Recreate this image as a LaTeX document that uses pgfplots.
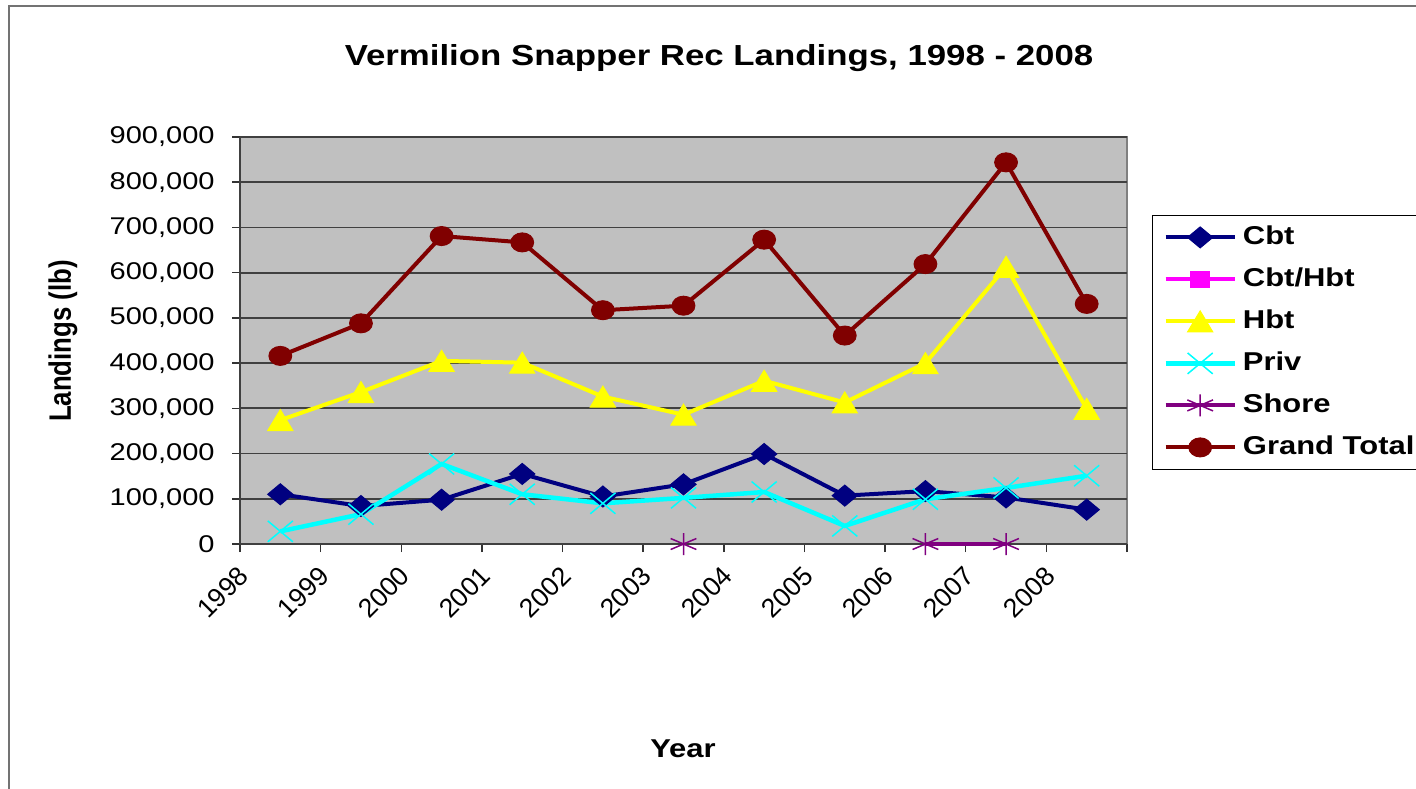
\documentclass[border=0pt]{standalone}
\usepackage{fontspec}
\setmainfont{Liberation Sans}[FakeStretch=1.2]
\newfontfamily\plainfont{Liberation Sans}
\usepackage{graphicx}
\usepackage{pgfplots}
\pgfplotsset{compat=1.18}
\usepackage{pgfplotstable}
\definecolor{cbt}{HTML}{000080}
\definecolor{cbthbt}{HTML}{FF00FF}
\definecolor{hbt}{HTML}{FFFF00}
\definecolor{priv}{HTML}{00FFFF}
\definecolor{shore}{HTML}{800080}
\definecolor{total}{HTML}{800000}
\definecolor{plotbg}{HTML}{C0C0C0}

\pgfplotstableread{
x cbt hbt priv shore total
0.5 110000 274000 28000 nan 416000
1.5 84000 336000 66000 nan 488000
2.5 98000 405000 177000 nan 681000
3.5 155000 401000 110000 nan 667000
4.5 105000 326000 90000 nan 517000
5.5 132000 286000 102000 0 527000
6.5 199000 361000 115000 nan 673000
7.5 107000 313000 40000 nan 461000
8.5 117000 400000 99000 0 619000
9.5 103000 613000 124000 0 844000
10.5 76000 299000 151000 nan 531000
}\data

\begin{document}
\begin{tikzpicture}
\useasboundingbox (0,0) rectangle (708pt,-394pt);
\fill[white] (0,0) rectangle (708pt,-394pt);
\draw[black!55, line width=1pt] (4.5pt,-400pt) -- (4.5pt,-3pt) -- (715pt,-3pt);
\begin{axis}[
  at={(120pt,-272pt)}, anchor=south west,
  scale only axis, width=443.5pt, height=203.5pt,
  xmin=0, xmax=11, ymin=0, ymax=900000,
  clip=false,
  unbounded coords=jump,
  axis background/.style={fill=plotbg, draw=black!50, line width=1pt},
  axis x line*=bottom, axis y line*=left,
  axis line style={-, black!75, line width=1pt},
  tick align=outside, major tick length=4pt,
  tick style={black!80, line width=0.75pt},
  xtick={0,1,...,11},
  xticklabels={1998,1999,2000,2001,2002,2003,2004,2005,2006,2007,2008,{}},
  xticklabel style={xshift=-1.5pt, yshift=-6pt, rotate=45, anchor=north east, inner sep=0pt,
    font=\plainfont\fontsize{13.3}{15}\selectfont},
  ytick={0,100000,...,900000},
  scaled y ticks=false,
  /pgf/number format/fixed, /pgf/number format/precision=0,
  /pgf/number format/1000 sep={,}, /pgf/number format/assume math mode=true,
  yticklabel style={anchor=east, inner sep=0pt, xshift=-8.5pt, font=\fontsize{12.1}{14}\selectfont},
  ymajorgrids, grid style={black!75, line width=0.9pt},
  legend image code/.code={\draw[mark repeat=2,mark phase=2,#1] plot coordinates {(0pt,0pt) (17.25pt,0pt) (34.5pt,0pt)};},
  legend cell align=left,
  legend style={at={(1.0282,0.8084)}, anchor=north west, draw=black, fill=white,
    inner xsep=5.5pt, inner ysep=5pt, row sep=9pt,
    font=\bfseries\fontsize{12.9}{15}\selectfont,
    nodes={inner sep=0pt, text height=9.3pt, text depth=2.7pt},
    /tikz/every odd column/.append style={column sep=3pt}},
]
\addplot[cbt, line width=2pt, mark=diamond*, mark size=5.25pt, mark options={solid, fill=cbt, line width=0.5pt, xscale=1.6}] table[x=x,y=cbt]{\data};
\addlegendentry{Cbt}
\addlegendimage{cbthbt, line width=2pt, mark=square*, mark size=4pt, mark options={solid, fill=cbthbt, line width=0.5pt, xscale=1.2}}
\addlegendentry{Cbt/Hbt}
\addplot[hbt, line width=2pt, mark=triangle*, mark size=7pt, mark options={solid, fill=hbt, line width=0.5pt, xscale=1.04, yshift=-1.75pt}] table[x=x,y=hbt]{\data};
\addlegendentry{Hbt}
\addplot[priv, line width=2.25pt, mark=x, mark size=7.4pt, mark options={solid, line width=0.75pt, xscale=1.2}] table[x=x,y=priv]{\data};
\addlegendentry{Priv}
\addplot[shore, line width=2pt, mark=asterisk, mark size=5.5pt, mark options={solid, line width=0.75pt, xscale=1.35}] table[x=x,y=shore]{\data};
\addlegendentry{Shore}
\addplot[total, line width=2pt, mark=*, mark size=4.75pt, mark options={solid, fill=total, line width=0.5pt, xscale=1.2}] table[x=x,y=total]{\data};
\addlegendentry{Grand Total}
\end{axis}
\node[anchor=base, font=\bfseries\fontsize{14.5}{17}\selectfont] at (359.5pt,-32.5pt) {Vermilion Snapper Rec Landings, 1998 - 2008};
\node[anchor=base, font=\bfseries\fontsize{12.9}{15}\selectfont] at (341.5pt,-378.5pt) {Year};
\node at (31.5pt,-170.5pt) {\scalebox{1.2}[1]{\rotatebox{90}{\plainfont\bfseries\fontsize{12.9}{15}\selectfont Landings (lb)}}};
\end{tikzpicture}
\end{document}
